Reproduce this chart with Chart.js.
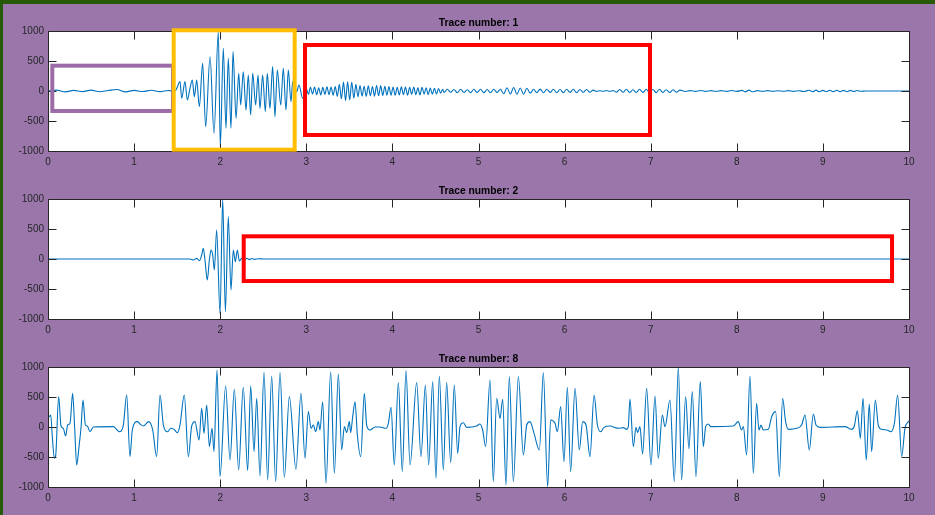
<!DOCTYPE html>
<html>
<head>
<meta charset="utf-8">
<script src="https://cdn.jsdelivr.net/npm/chart.js@4.4.0/dist/chart.umd.min.js"></script>
<style>
  html, body { margin: 0; padding: 0; background: #9a76ab; }
  #page { position: relative; width: 935px; height: 515px; background: #9a76ab; overflow: hidden; }
  #page canvas { position: absolute; left: 0; }
  .edge { position: absolute; background: #275a08; }
</style>
</head>
<body>
<div id="page">
  <div class="edge" style="left:0;top:0;width:935px;height:4px"></div>
  <div class="edge" style="left:0;top:0;width:3px;height:515px"></div>
  <canvas id="trace-1" width="935" height="168" style="top:0"></canvas>
  <canvas id="trace-2" width="935" height="168" style="top:168px"></canvas>
  <canvas id="trace-8" width="935" height="179" style="top:336px"></canvas>
</div>
<script>
// Tick labels ------------------------------------------------------------
const timeTicks = [0, 1, 2, 3, 4, 5, 6, 7, 8, 9, 10];
const ampTicks = [-1000, -500, 0, 500, 1000];

// Trace 1: [time, amplitude] ---------------------------------------------
const trace1Quiet = [
  [0, 0], [0.10, 15], [0.20, -15], [0.30, 10], [0.40, -10], [0.50, 15], [0.60, -12],
  [0.70, 8], [0.80, 25], [0.90, -15], [1.00, 10], [1.10, -8], [1.20, 12], [1.30, -10],
  [1.40, 8], [1.46, -5]
];
const trace1Burst = [
  [1.487, 17], [1.533, 156], [1.553, -122], [1.591, 156], [1.618, -150], [1.649, 44],
  [1.676, 183], [1.700, -94], [1.727, 183], [1.758, -261], [1.796, 461], [1.831, -594],
  [1.882, 572], [1.928, -706], [1.978, 989], [2.001, -928], [2.036, 711], [2.067, -622],
  [2.094, 544], [2.125, -622], [2.149, 656], [2.184, -456], [2.215, 294], [2.238, -233],
  [2.268, 322], [2.300, -317], [2.326, 267], [2.354, -400], [2.377, 294], [2.412, -233],
  [2.439, 267], [2.462, -289], [2.493, 267], [2.524, -344], [2.547, 294], [2.578, -289],
  [2.609, 406], [2.636, -428], [2.663, 350], [2.703, -233], [2.733, 378], [2.764, -317],
  [2.791, 350], [2.822, -178], [2.842, 156], [2.888, -11], [2.915, 100], [2.958, -122]
];
const trace1Coda = [
  [3.000, 40], [3.024, -55], [3.048, 60], [3.072, -50], [3.096, 65], [3.120, -60],
  [3.144, 55], [3.168, -65], [3.192, 60], [3.216, -55], [3.240, 70], [3.264, -60],
  [3.288, 65], [3.312, -70], [3.336, 75], [3.360, -90], [3.384, 110], [3.408, -130],
  [3.432, 150], [3.456, -160], [3.480, 155], [3.504, -150], [3.528, 145], [3.552, -120],
  [3.576, 110], [3.600, -95], [3.624, 90], [3.648, -85], [3.672, 80], [3.696, -90],
  [3.720, 85], [3.744, -80], [3.768, 75], [3.792, -85], [3.816, 90], [3.840, -80],
  [3.864, 85], [3.888, -75], [3.912, 80], [3.936, -70], [3.960, 75], [3.984, -70],
  [4.008, 65], [4.032, -70], [4.056, 60], [4.080, -65], [4.104, 70], [4.128, -60],
  [4.152, 65], [4.176, -70], [4.200, 60], [4.224, -55], [4.248, 65], [4.272, -60],
  [4.296, 55], [4.320, -65], [4.344, 60], [4.368, -50], [4.392, 55], [4.416, -60],
  [4.440, 50], [4.464, -55], [4.488, 45], [4.512, -50], [4.536, 40], [4.560, -35],
  [4.584, 30],
  [4.600, -25], [4.638, 28], [4.677, -22], [4.715, 25], [4.754, -30], [4.792, 28],
  [4.831, -25], [4.869, 22], [4.908, -28], [4.946, 30], [4.985, -25], [5.023, 28],
  [5.062, -30], [5.100, 25], [5.139, -28], [5.177, 30], [5.216, -25], [5.254, 28],
  [5.293, -45], [5.331, 55], [5.370, -50], [5.408, 58], [5.447, -55], [5.485, 50],
  [5.524, -55], [5.562, 45], [5.601, -35], [5.639, 30], [5.678, -28], [5.716, 32],
  [5.755, -30], [5.793, 28], [5.832, -25], [5.870, 30], [5.909, -28], [5.947, 25],
  [5.986, -30], [6.024, 28], [6.063, -25], [6.101, 30], [6.140, -28], [6.178, 25],
  [6.217, -22], [6.255, 25], [6.294, -20], [6.332, 15], [6.371, -8], [6.409, 5],
  [6.448, -5], [6.486, 8], [6.525, -5], [6.563, 8], [6.602, -20], [6.640, 25],
  [6.679, -22], [6.717, 28], [6.756, -25], [6.794, 22], [6.833, -25], [6.871, 28],
  [6.910, -25], [6.948, 30], [6.987, -28], [7.025, 25], [7.064, -30], [7.102, 28],
  [7.140, -25], [7.180, 22], [7.220, -25], [7.260, 20], [7.300, -22], [7.340, 15],
  [7.400, -8], [7.460, 6], [7.520, -6], [7.580, 8], [7.640, -6], [7.700, 6],
  [7.760, -8], [7.820, 6], [7.880, -6], [7.940, 8], [8.000, -6], [8.060, 10],
  [8.100, -15], [8.140, 15], [8.180, -12], [8.240, 6], [8.300, -6], [8.360, 6],
  [8.420, -6], [8.480, 5], [8.540, -5], [8.600, 6], [8.660, -6], [8.720, 5],
  [8.780, -8], [8.840, 12], [8.880, -12], [8.920, 14], [8.960, -12], [9.000, 10],
  [9.040, -12], [9.080, 12], [9.120, -10], [9.160, 12], [9.200, -10], [9.240, 10],
  [9.280, -12], [9.320, 10], [9.360, -8], [9.400, 8], [9.440, -5], [9.500, 0],
  [10, 0]
];

// Trace 2 ----------------------------------------------------------------
const trace2 = [
  [0, 0], [1.649, 0], [1.688, -17], [1.727, 11], [1.758, -28], [1.785, 67], [1.804, 178],
  [1.823, -17], [1.850, -350], [1.874, -17], [1.893, 150], [1.913, 67], [1.932, -183],
  [1.959, 483], [1.998, -906], [2.029, 1000], [2.060, -878], [2.094, 706], [2.125, -517],
  [2.152, 150], [2.176, -44], [2.199, 150], [2.222, -33], [2.250, 11], [2.28, -15],
  [2.31, 12], [2.34, -10], [2.37, 8], [2.40, -6], [2.45, 5], [2.5, 0], [10, 0]
];

// Trace 8 ----------------------------------------------------------------
const trace8 = [
  [0.000, 170], [0.015, 172], [0.031, 200], [0.050, -160], [0.074, -522], [0.089, -480],
  [0.124, 506], [0.151, 17], [0.178, -22], [0.205, -150], [0.228, 33], [0.256, 61],
  [0.286, 561], [0.310, -22], [0.333, -633], [0.360, -328], [0.383, -22], [0.407, 450],
  [0.434, 33], [0.457, 17], [0.488, -78], [0.527, 0], [0.759, 6], [0.829, -78],
  [0.875, 33], [0.914, 533], [0.952, -494], [0.979, -50], [1.038, 89], [1.069, 50],
  [1.107, 17], [1.169, 89], [1.216, -50], [1.262, -494], [1.301, 533], [1.340, 33],
  [1.390, -78], [1.425, -22], [1.463, -39], [1.502, -94], [1.533, 33], [1.583, 533],
  [1.630, -494], [1.669, 17], [1.707, 89], [1.754, -217], [1.785, 311], [1.812, -106],
  [1.843, 367], [1.874, -328], [1.905, -22], [1.928, -411], [1.963, 950], [1.998, -828],
  [2.063, 683], [2.114, -550], [2.164, 628], [2.214, -717], [2.268, 661], [2.319, -728],
  [2.354, 683], [2.393, -411], [2.424, 478], [2.462, -817], [2.509, 911], [2.551, -883],
  [2.598, 850], [2.644, -911], [2.695, 906], [2.745, -839], [2.803, 506], [2.880, -706],
  [2.938, 561], [2.985, -522], [3.024, 256], [3.055, -22], [3.082, 33], [3.109, -78],
  [3.140, 89], [3.159, -50], [3.190, 422], [3.229, -939], [3.283, 922], [3.326, -772],
  [3.372, 883], [3.411, -383], [3.442, 6], [3.469, -94], [3.500, 89], [3.515, -94],
  [3.539, 172], [3.566, 422], [3.593, -133], [3.632, -494], [3.674, 561], [3.701, 33],
  [3.740, -50], [3.798, 0], [3.856, 0], [3.926, -22], [3.953, 61], [3.984, 328],
  [4.022, -633], [4.069, 739], [4.115, -744], [4.158, 939], [4.205, -633], [4.282, 739],
  [4.332, -494], [4.383, 700], [4.421, -633], [4.468, 756], [4.506, -856], [4.545, 850],
  [4.592, -717], [4.630, 739], [4.677, -594], [4.719, 700], [4.758, -439], [4.785, 6],
  [4.824, 72], [4.863, -6], [4.979, 17], [5.017, 50], [5.048, -50], [5.083, -328],
  [5.134, 783], [5.172, -911], [5.211, 478], [5.250, 144], [5.281, 461], [5.319, -967],
  [5.358, 839], [5.405, -911], [5.463, 839], [5.521, -467], [5.560, 33], [5.598, 89],
  [5.645, -106], [5.707, -383], [5.753, 906], [5.803, -994], [5.838, 117], [5.889, 61],
  [5.916, -78], [5.954, 339], [5.993, -578], [6.032, 661], [6.070, -744], [6.121, 644],
  [6.171, -383], [6.210, 89], [6.249, 33], [6.295, -494], [6.342, 533], [6.381, 33],
  [6.419, -78], [6.458, -6], [6.527, 17], [6.624, -22], [6.682, -11], [6.721, -39],
  [6.740, 6], [6.759, 467], [6.798, -328], [6.829, -6], [6.848, -94], [6.875, 6],
  [6.906, -450], [6.953, 644], [7.003, -633], [7.050, 517], [7.088, -522], [7.135, 200],
  [7.166, 6], [7.224, 450], [7.274, -911], [7.321, 1000], [7.359, -883], [7.406, 506],
  [7.444, -361], [7.483, 589], [7.526, -828], [7.576, 756], [7.611, -328], [7.638, 6],
  [7.669, 50], [7.700, 6], [7.959, 17], [8.017, 89], [8.056, -50], [8.076, 6],
  [8.114, -467], [8.153, 850], [8.192, -772], [8.230, 394], [8.257, -50], [8.281, 33],
  [8.308, -50], [8.366, -39], [8.405, 172], [8.451, 256], [8.494, -828], [8.532, 478],
  [8.567, 89], [8.598, -39], [8.695, -22], [8.753, 33], [8.792, 200], [8.842, -383],
  [8.889, 217], [8.920, 33], [8.966, -6], [9.256, 6], [9.334, -39], [9.365, 17],
  [9.400, 272], [9.435, -189], [9.466, 478], [9.504, -550], [9.539, 383], [9.566, -411],
  [9.609, 450], [9.643, 33], [9.682, -39], [9.740, -50], [9.791, -78], [9.830, 61],
  [9.868, 533], [9.915, -494], [9.953, -22], [9.992, 89], [10.0, 100]
];

// Highlight boxes drawn over the plots (in data units) -------------------
const boxesTrace1 = [
  { x0: 0.05, x1: 1.452, y0: -333, y1: 422, color: '#9c6ca8', width: 4 },
  { x0: 1.46, x1: 2.865, y0: -978, y1: 1012, color: '#ffbf00', width: 4 },
  { x0: 2.985, x1: 6.992, y0: -733, y1: 767, color: '#ff0000', width: 4 }
];
const boxesTrace2 = [
  { x0: 2.273, x1: 9.803, y0: -367, y1: 378, color: '#ff0000', width: 4 }
];

const axisColor = '#262626';
const lineColor = '#0072bd';
const tickLen = 8;

// White plot area, box and inward ticks (MATLAB look) --------------------
const framePlugin = {
    id: 'frame',
    beforeDraw(chart) {
        const { ctx, chartArea: a } = chart;
        ctx.save();
        ctx.fillStyle = '#ffffff';
        ctx.fillRect(a.left, a.top, a.right - a.left, a.bottom - a.top);
        ctx.restore();
    },
    afterDatasetsDraw(chart) {
        const { ctx, chartArea: a, scales } = chart;
        const l = a.left + 0.5, r = a.right + 0.5, t = a.top + 0.5, b = a.bottom + 0.5;
        ctx.save();
        ctx.strokeStyle = axisColor;
        ctx.lineWidth = 1;
        ctx.beginPath();
        ctx.rect(l, t, r - l, b - t);
        timeTicks.forEach(v => {
            const px = Math.round(scales.x.getPixelForValue(v)) + 0.5;
            ctx.moveTo(px, b); ctx.lineTo(px, b - tickLen);
            ctx.moveTo(px, t); ctx.lineTo(px, t + tickLen);
        });
        ampTicks.forEach(v => {
            const py = Math.round(scales.y.getPixelForValue(v)) + 0.5;
            ctx.moveTo(l, py); ctx.lineTo(l + tickLen, py);
            ctx.moveTo(r, py); ctx.lineTo(r - tickLen, py);
        });
        ctx.stroke();
        ctx.restore();
    }
};

const highlightPlugin = {
    id: 'highlights',
    afterDraw(chart) {
        const boxes = chart.config.options.highlightBoxes || [];
        const { ctx, scales: { x, y } } = chart;
        boxes.forEach(bx => {
            const l = x.getPixelForValue(bx.x0), r = x.getPixelForValue(bx.x1);
            const t = y.getPixelForValue(bx.y1), b = y.getPixelForValue(bx.y0);
            ctx.save();
            ctx.strokeStyle = bx.color;
            ctx.lineWidth = bx.width;
            ctx.strokeRect(l, t, r - l, b - t);
            ctx.restore();
        });
    }
};

function renderTrace(canvasId, title, points, boxes) {
    const canvas = document.getElementById(canvasId);
    const ctx = canvas.getContext('2d');
    const bottomSpace = canvas.height - 151;
    const labelFont = { family: 'Liberation Sans, Arial, sans-serif', size: 10 };

    new Chart(ctx, {
        type: 'line',
        data: {
            datasets: [{
                data: points.map(p => ({ x: p[0], y: p[1] })),
                borderColor: lineColor,
                borderWidth: 1.1,
                pointRadius: 0,
                fill: false,
                cubicInterpolationMode: 'monotone'
            }]
        },
        options: {
            responsive: false,
            animation: false,
            devicePixelRatio: 1,
            highlightBoxes: boxes,
            layout: { padding: { left: 0, right: 26, top: 0, bottom: 0 } },
            scales: {
                x: {
                    type: 'linear',
                    min: 0,
                    max: 10,
                    afterBuildTicks: s => { s.ticks = timeTicks.map(v => ({ value: v })); },
                    afterFit: s => { s.height = bottomSpace; },
                    grid: { display: false, drawTicks: false },
                    border: { display: false },
                    ticks: {
                        autoSkip: false,
                        maxRotation: 0,
                        padding: 5,
                        color: axisColor,
                        font: labelFont,
                        callback: v => String(v)
                    }
                },
                y: {
                    min: -1000,
                    max: 1000,
                    afterBuildTicks: s => { s.ticks = ampTicks.map(v => ({ value: v })); },
                    afterFit: s => { s.width = 48; },
                    grid: { display: false, drawTicks: false },
                    border: { display: false },
                    ticks: {
                        padding: 4,
                        color: axisColor,
                        font: labelFont,
                        callback: v => String(v)
                    }
                }
            },
            plugins: {
                legend: { display: false },
                tooltip: { enabled: false },
                title: {
                    display: true,
                    text: title,
                    fullSize: false,
                    color: '#000000',
                    padding: { top: 17, bottom: 31 - 17 - 10.3 * 1.2 },
                    font: { family: 'Liberation Sans, Arial, sans-serif', size: 10.3, weight: 'bold', lineHeight: 1.2 }
                }
            }
        },
        plugins: [framePlugin, highlightPlugin]
    });
}

renderTrace('trace-1', 'Trace number: 1', trace1Quiet.concat(trace1Burst, trace1Coda), boxesTrace1);
renderTrace('trace-2', 'Trace number: 2', trace2, boxesTrace2);
renderTrace('trace-8', 'Trace number: 8', trace8, []);
</script>
</body>
</html>
